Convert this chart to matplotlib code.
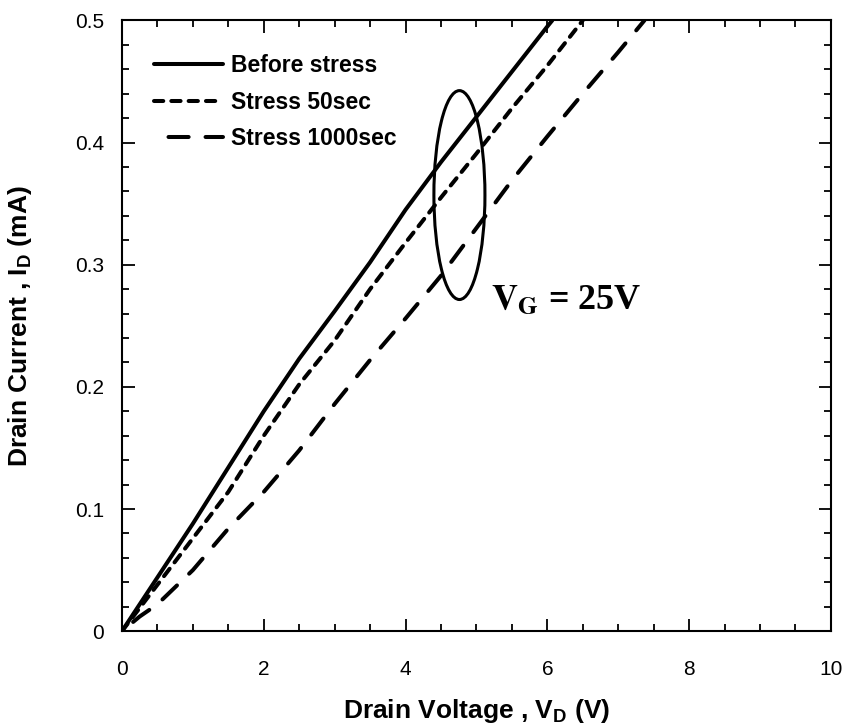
import matplotlib.pyplot as plt
from matplotlib.patches import Ellipse

plt.rcParams['font.family'] = ['Liberation Sans', 'DejaVu Sans']
plt.rcParams['mathtext.fontset'] = 'custom'
plt.rcParams['mathtext.rm'] = 'Liberation Sans'
plt.rcParams['mathtext.bf'] = 'Liberation Sans:bold'

# 数据
vd_before = [0, 0.5, 1, 1.5, 2, 2.5, 3, 3.5, 4, 4.5, 5, 5.5, 6, 6.07]
id_before = [0, 0.044, 0.088, 0.134, 0.18, 0.223, 0.262, 0.302, 0.345, 0.384, 0.421, 0.458, 0.495, 0.5]

vd_50 = [0, 0.5, 1, 1.5, 2, 2.5, 3, 3.5, 4, 4.5, 5, 5.5, 6, 6.5]
id_50 = [0, 0.038, 0.076, 0.114, 0.16, 0.202, 0.238, 0.28, 0.318, 0.355, 0.391, 0.428, 0.463, 0.5]

vd_1000 = [0, 0.25, 0.5, 1, 1.5, 2, 2.5, 3, 3.5, 4, 4.5, 5, 5.5, 6, 6.5, 7, 7.37]
id_1000 = [0, 0.012, 0.022, 0.05, 0.084, 0.114, 0.148, 0.186, 0.222, 0.256, 0.291, 0.33, 0.369, 0.405, 0.44, 0.474, 0.5]

labels = ['Before stress', 'Stress 50sec', 'Stress 1000sec']
x_ticks = [0, 2, 4, 6, 8, 10]
y_ticks = [0, 0.1, 0.2, 0.3, 0.4, 0.5]
y_ticklabels = ['0', '0.1', '0.2', '0.3', '0.4', '0.5']

fig = plt.figure(figsize=(8.47, 7.28), dpi=100)
ax = fig.add_axes([0.144, 0.133, 0.837, 0.839])

ax.plot(vd_before, id_before, color='k', lw=2.9, solid_capstyle='round', label=labels[0])
ax.plot(vd_50, id_50, color='k', lw=2.9, dashes=(2.3, 2.0), dash_capstyle='round', label=labels[1])
ax.plot(vd_1000, id_1000, color='k', lw=2.9, ls=(5.6, (5.0, 4.2)), dash_capstyle='round', label=labels[2])

# 椭圆和注释
ax.add_patch(Ellipse((4.76, 0.357), 0.72, 0.171, fill=False, ec='k', lw=2.2))
ax.text(5.2, 0.264, r'$\mathbf{V_G}$ = 25V', fontsize=26, fontweight='bold',
        family='Liberation Serif', math_fontfamily='stix', ha='left', va='baseline')

ax.set_xlim(0, 10)
ax.set_ylim(0, 0.5)
ax.set_xticks(x_ticks)
ax.set_xticklabels([str(t) for t in x_ticks])
ax.set_xticks([i * 0.5 for i in range(21)], minor=True)
ax.set_yticks(y_ticks)
ax.set_yticklabels(y_ticklabels)
ax.set_yticks([i * 0.02 for i in range(26)], minor=True)
ax.tick_params(which='both', direction='in', top=True, right=True, labelsize=15, width=1.3)
ax.tick_params(which='major', length=9)
ax.tick_params(which='minor', length=5)
ax.tick_params(axis='x', which='major', pad=21)
ax.tick_params(axis='y', which='major', pad=13)
for s in ax.spines.values():
    s.set_linewidth(1.5)

ax.set_xlabel(r'Drain Voltage , V$_\mathbf{D}$ (V)', fontsize=19, fontweight='bold', labelpad=13)
ax.set_ylabel(r'Drain Current , I$_\mathbf{D}$ (mA)', fontsize=19, fontweight='bold')
ax.yaxis.set_label_coords(-0.124, 0.5)

ax.legend(loc='upper left', bbox_to_anchor=(0.045, 0.945), frameon=False,
          prop={'weight': 'bold', 'size': 16.5}, handlelength=3.0, handletextpad=0.35,
          labelspacing=0.6, borderpad=0, borderaxespad=0)

fig.savefig('out.png', dpi=100)
